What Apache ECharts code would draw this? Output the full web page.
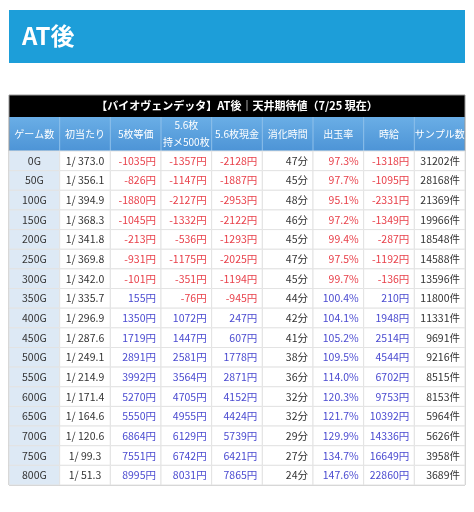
<!DOCTYPE html>
<html><head><meta charset="utf-8">
<script src="https://cdn.jsdelivr.net/npm/echarts@6/dist/echarts.min.js"></script>
<style>html,body{margin:0;background:#fff}#c{width:474px;height:512px}</style>
</head><body><div id="c"></div>
<script>
const games=['0G','50G','100G','150G','200G','250G','300G','350G','400G','450G','500G','550G','600G','650G','700G','750G','800G'];
const firstHit=['1/ 373.0','1/ 356.1','1/ 394.9','1/ 368.3','1/ 341.8','1/ 369.8','1/ 342.0','1/ 335.7','1/ 296.9','1/ 287.6','1/ 249.1','1/ 214.9','1/ 171.4','1/ 164.6','1/ 120.6','1/ 99.3','1/ 51.3'];
const eq5=[-1035,-826,-1880,-1045,-213,-931,-101,155,1350,1719,2891,3992,5270,5550,6864,7551,8995];
const hold56=[-1357,-1147,-2127,-1332,-536,-1175,-351,-76,1072,1447,2581,3564,4705,4955,6129,6742,8031];
const cash56=[-2128,-1887,-2953,-2122,-1293,-2025,-1194,-945,247,607,1778,2871,4152,4424,5739,6421,7865];
const minutes=[47,45,48,46,45,47,45,44,42,41,38,36,32,32,29,27,24];
const payout=[97.3,97.7,95.1,97.2,99.4,97.5,99.7,100.4,104.1,105.2,109.5,114.0,120.3,121.7,129.9,134.7,147.6];
const hourly=[-1318,-1095,-2331,-1349,-287,-1192,-136,210,1948,2514,4544,6702,9753,10392,14336,16649,22860];
const samples=[31202,28168,21369,19966,18548,14588,13596,11800,11331,9691,9216,8515,8153,5964,5626,3958,3689];
const headers=['ゲーム数','初当たり','5枚等価','5.6枚\n持メ500枚','5.6枚現金','消化時間','出玉率','時給','サンプル数'];
const title='【バイオヴェンデッタ】AT後｜天井期待値（7/25 現在）';

const RED='#e8404a',BLUE='#4a4ad0',DARK='#333';
const data=[];
for(let r=0;r<games.length;r++){
  const cells=[
    [games[r],DARK],[firstHit[r],DARK],
    [eq5[r]+'円',eq5[r]<0?RED:BLUE],[hold56[r]+'円',hold56[r]<0?RED:BLUE],[cash56[r]+'円',cash56[r]<0?RED:BLUE],
    [minutes[r]+'分',DARK],[payout[r].toFixed(1)+'%',payout[r]<100?RED:BLUE],[hourly[r]+'円',hourly[r]<0?RED:BLUE],[samples[r]+'件',DARK]
  ];
  cells.forEach((c,ci)=>data.push([ci,r,c[0],c[1]]));
}
const L=9,R=465,TOP=151,BOT=485;
const chart=echarts.init(document.getElementById('c'));
const font='"Noto Sans CJK JP","Noto Sans",sans-serif';
const colW=(R-L)/9;
const graphic=[
  {type:'rect',shape:{x:9,y:10,width:456,height:53},style:{fill:'#1d9ed9'}},
  {type:'text',x:22,y:36,style:{text:'AT後',fill:'#fff',font:'bold 24px '+font,verticalAlign:'middle'}},
  {type:'rect',shape:{x:L,y:95,width:R-L,height:22},style:{fill:'#000'}},
  {type:'text',x:(L+R)/2,y:106,style:{text:title,fill:'#fff',font:'bold 11px '+font,align:'center',verticalAlign:'middle'}},
  {type:'rect',shape:{x:L,y:117,width:R-L,height:34},style:{fill:new echarts.graphic.LinearGradient(0,0,0,1,[{offset:0,color:'#6aaee6'},{offset:1,color:'#4d94d6'}])}},
];
headers.forEach((h,i)=>{
  graphic.push({type:'text',x:L+colW*(i+0.5),y:134,style:{text:h,fill:'#fff',font:'10px '+font,align:'center',verticalAlign:'middle',lineHeight:17}});
  if(i>0)graphic.push({type:'line',shape:{x1:L+colW*i,y1:117,x2:L+colW*i,y2:151},style:{stroke:'#8fc0ea',lineWidth:1}});
});
graphic.push({type:'rect',shape:{x:L,y:95,width:R-L,height:BOT-95},style:{fill:'none',stroke:'#999',lineWidth:1}});
chart.setOption({
  animation:false,
  grid:{left:L,right:474-R,top:TOP,bottom:512-BOT},
  xAxis:{type:'category',data:headers,show:false},
  yAxis:{type:'category',data:games,inverse:true,show:false},
  series:[{type:'custom',data,renderItem(params,api){
    const ci=api.value(0),c=api.coord([ci,api.value(1)]),s=api.size([1,1]);
    const x=c[0]-s[0]/2,y=c[1]-s[1]/2;
    const txt=data[params.dataIndex][2],col=data[params.dataIndex][3];
    let tx,al;
    if(ci<2){tx=c[0];al='center';}else{tx=x+s[0]-5;al='right';}
    return {type:'group',children:[
      {type:'rect',shape:{x,y,width:s[0],height:s[1]},style:{fill:ci===0?'#dde9f5':'#fff',stroke:'#e3e3e3',lineWidth:1}},
      {type:'text',x:tx,y:c[1],style:{text:txt,fill:col,font:'10.5px '+font,align:al,verticalAlign:'middle'}}
    ]};
  }}],
  graphic
});
</script></body></html>
